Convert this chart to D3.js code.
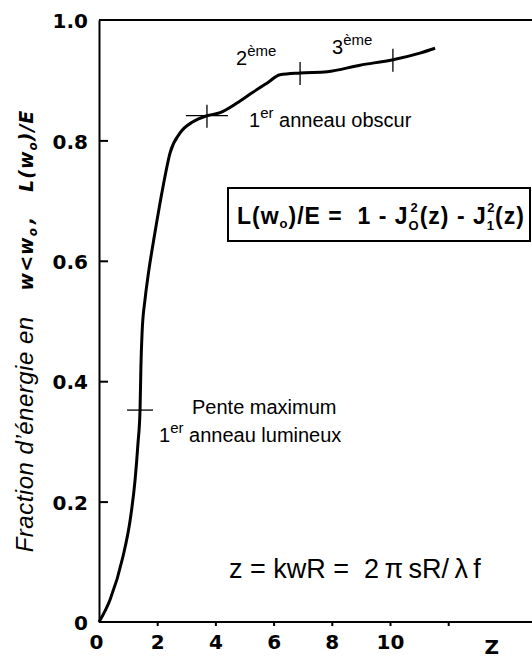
<!DOCTYPE html>
<html>
<head>
<meta charset="utf-8">
<script src="https://cdn.jsdelivr.net/npm/d3@7"></script>
<style>
  body { margin: 0; background: #fff; }
  svg { display: block; font-family: "Liberation Sans", Arial, sans-serif; }
  .pre { white-space: pre; }
</style>
</head>
<body>
<div id="chart"></div>
<script>
// curve: z and fraction of energy
const zValues = [0, 0.38, 0.82, 1.07, 1.24, 1.34, 1.41, 1.44, 1.48, 1.58, 1.68, 1.92, 2.2, 2.44, 2.78, 3.23, 3.71, 4.16, 4.74, 5.29, 5.77, 6.22, 6.91, 7.84, 8.97, 10.1, 11.03, 11.55];
const energy = [0, 0.037, 0.108, 0.169, 0.236, 0.297, 0.352, 0.424, 0.48, 0.535, 0.573, 0.646, 0.723, 0.779, 0.812, 0.831, 0.841, 0.846, 0.862, 0.88, 0.895, 0.909, 0.912, 0.914, 0.925, 0.934, 0.945, 0.953];

// marks on the curve (z, value, kind)
const markZ = [1.41, 3.71, 6.91, 10.1];
const markV = [0.352, 0.841, 0.912, 0.934];
const markKind = ['h', 'cross', 'v', 'v'];

const yTicks = [0, 0.2, 0.4, 0.6, 0.8, 1.0];
const yTickLabels = ['0', '0.2', '0.4', '0.6', '0.8', '1.0'];
const xTicks = [0, 2, 4, 6, 8, 10, 12];
const xTickLabels = ['0', '2', '4', '6', '8', '10', ''];

const W = 532, H = 660;
const NARROW = '"Liberation Sans Narrow", "Liberation Sans", Arial, sans-serif';
const DEJA = '"DejaVu Sans", sans-serif';

const svg = d3.select('#chart').append('svg')
  .attr('width', W).attr('height', H);

const x = d3.scaleLinear().domain([0, 14.88]).range([99, 532]);
const y = d3.scaleLinear().domain([0, 1]).range([622, 20]);

// top frame line
svg.append('line')
  .attr('x1', x(0)).attr('x2', W)
  .attr('y1', y(1)).attr('y2', y(1))
  .attr('stroke', '#000').attr('stroke-width', 2);

// y axis, ticks pointing inward
const yAxis = svg.append('g')
  .attr('transform', `translate(${x(0)},0)`)
  .call(d3.axisLeft(y).tickValues(yTicks).tickSizeInner(-9).tickSizeOuter(0)
    .tickPadding(20).tickFormat((d, i) => yTickLabels[i]));
yAxis.attr('font-size', null).attr('font-family', null);
yAxis.select('.domain').attr('stroke-width', 2);
yAxis.selectAll('.tick line').attr('stroke-width', 2)
  .filter(d => d === 0 || d === 1).remove();
yAxis.selectAll('.tick text')
  .style('font-family', DEJA)
  .style('font-size', '20px').style('font-weight', 'bold')
  .attr('dx', '9').attr('dy', '0.38em');

// x axis, short ticks below
const xAxis = svg.append('g')
  .attr('transform', `translate(0,${y(0)})`)
  .call(d3.axisBottom(x).tickValues(xTicks).tickSizeInner(4).tickSizeOuter(0)
    .tickPadding(9).tickFormat((d, i) => xTickLabels[i]));
xAxis.attr('font-size', null).attr('font-family', null);
xAxis.select('.domain').attr('stroke-width', 2).attr('d', `M${x(0)},0H${W}`);
xAxis.selectAll('.tick line').attr('stroke-width', 2)
  .filter(d => d === 0).remove();
xAxis.selectAll('.tick text')
  .style('font-family', DEJA)
  .style('font-size', '20px').style('font-weight', 'bold');
xAxis.selectAll('.tick').filter(d => d === 0).select('text').attr('dx', '-3');

svg.append('text')
  .attr('x', x(13.5)).attr('y', 654)
  .attr('text-anchor', 'middle')
  .style('font-family', DEJA)
  .style('font-size', '20px').style('font-weight', 'bold')
  .text('Z');

// y-axis label
const ylab = svg.append('text')
  .attr('class', 'pre')
  .attr('transform', `translate(33,331) rotate(-90)`)
  .attr('text-anchor', 'middle')
  .style('font-size', '24px').style('font-style', 'italic');
ylab.append('tspan').style('letter-spacing', '0.5px').text('Fraction d\u2019énergie en');
function ybSpan(txt, dx, dy, size) {
  const s = ylab.append('tspan').text(txt)
    .style('font-family', DEJA).style('font-weight', 'bold')
    .style('font-size', size || '19px').style('letter-spacing', '1px');
  if (dx) s.attr('dx', dx);
  if (dy) s.attr('dy', dy);
}
ybSpan('w<w', 26);
ybSpan('o', 0, 4, '12px');
ybSpan(',', 3, -4);
ybSpan('L(w', 24);
ybSpan('o', 0, 4, '12px');
ybSpan(')/E', 0, -4);

// the curve
const pts = zValues.map((z, i) => ({ z, v: energy[i] }));
const line = d3.line().x(d => x(d.z)).y(d => y(d.v)).curve(d3.curveMonotoneX);
svg.append('path')
  .datum(pts)
  .attr('d', line)
  .attr('fill', 'none')
  .attr('stroke', '#000')
  .attr('stroke-width', 3);

// marks
markZ.forEach((z, i) => {
  const cx = x(z), cy = y(markV[i]);
  const kind = markKind[i];
  if (kind === 'h' || kind === 'cross') {
    const hw = kind === 'h' ? 13 : 21;
    svg.append('line')
      .attr('x1', cx - hw).attr('x2', cx + hw)
      .attr('y1', cy).attr('y2', cy)
      .attr('stroke', '#000').attr('stroke-width', 1.3);
  }
  if (kind === 'v' || kind === 'cross') {
    svg.append('line')
      .attr('x1', cx).attr('x2', cx)
      .attr('y1', cy - 11).attr('y2', cy + 12)
      .attr('stroke', '#000').attr('stroke-width', 1.3);
  }
});

// annotations
function supText(px, py, base, sup, rest, size) {
  const t = svg.append('text').attr('x', px).attr('y', py).style('font-size', size + 'px');
  t.append('tspan').text(base);
  t.append('tspan').attr('dy', -9).style('font-size', (size - 5) + 'px').text(sup);
  if (rest) t.append('tspan').attr('dy', 9).text(rest);
  return t;
}

supText(236, 65, '2', 'ème', null, 20);
supText(332, 54, '3', 'ème', null, 20);
supText(249, 127, '1', 'er', ' anneau obscur', 20);
svg.append('text').attr('x', 192).attr('y', 414)
  .style('font-size', '20px').text('Pente maximum');
supText(159, 442, '1', 'er', ' anneau lumineux', 20);

// formula box
svg.append('rect')
  .attr('x', 228).attr('y', 188).attr('width', 302).attr('height', 53)
  .attr('fill', 'none').attr('stroke', '#000').attr('stroke-width', 2);

const fy = 224;
const f = svg.append('text').attr('class', 'pre').attr('x', 237).attr('y', fy)
  .style('font-family', NARROW)
  .style('font-size', '23px').style('font-weight', 'bold').style('letter-spacing', '1px');
f.append('tspan').text('L(w');
f.append('tspan').attr('dy', 4).style('font-size', '13px').text('o');
f.append('tspan').attr('dy', -4).text(')/E =  1 - J');
const sub0 = f.append('tspan').attr('dy', 6).style('font-size', '13px').text('O');
f.append('tspan').attr('dy', -6).text('(z) - J');
const sub1 = f.append('tspan').attr('dy', 6).style('font-size', '13px').text('1');
f.append('tspan').attr('dy', -6).text('(z)');

// exponents stacked over the subscripts
[sub0, sub1].forEach(s => {
  const b = s.node().getBBox();
  svg.append('text')
    .attr('x', b.x + b.width / 2).attr('y', fy - 12)
    .attr('text-anchor', 'middle')
    .style('font-family', NARROW)
    .style('font-size', '13px').style('font-weight', 'bold')
    .text('2');
});

svg.append('text').attr('class', 'pre').attr('x', 229).attr('y', 578)
  .style('font-size', '27px').text('z = kwR =  2\u2009\u03C0\u2009sR/\u2009\u03BB\u2009f');
</script>
</body>
</html>
